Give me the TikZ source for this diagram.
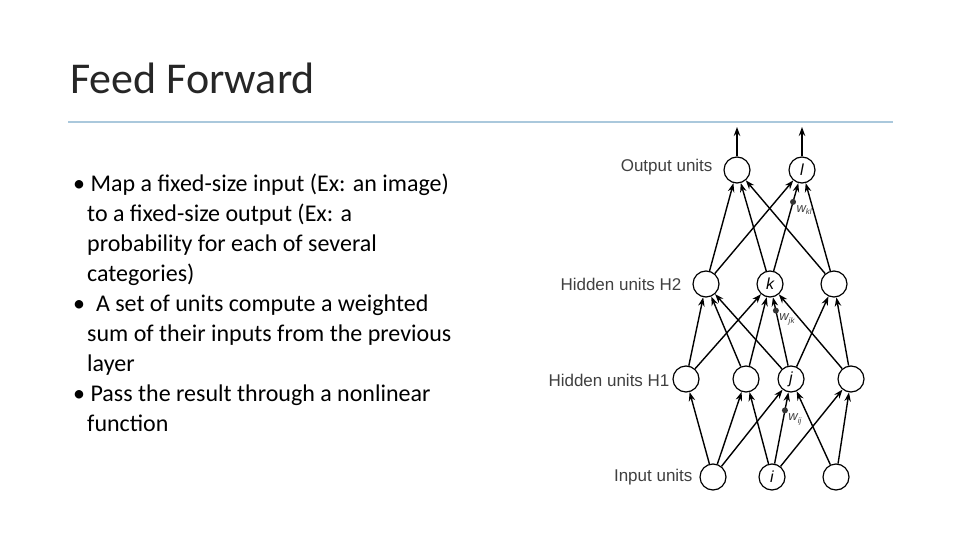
\documentclass[tikz,border=0pt]{standalone}
\usetikzlibrary{arrows.meta,calc}
\usepackage{fontspec}
\setmainfont{Carlito}
\newfontfamily\netfont{Liberation Sans}
\newcommand{\subtxt}[1]{\raisebox{-0.35ex}{\fontsize{8}{8}\selectfont #1}}
\begin{document}
\begin{tikzpicture}[x=1pt,y=-1pt,
  unit/.style={circle,draw,line width=1.2pt,minimum size=26pt,inner sep=0pt,font=\netfont\itshape\fontsize{16}{16}\selectfont},
  edge/.style={-{Stealth[length=9pt,width=6.5pt]},line width=1.4pt},
  lbl/.style={font=\netfont\fontsize{17}{18}\selectfont,text=black!75,anchor=east},
  wl/.style={font=\netfont\itshape\fontsize{13}{13}\selectfont,text=black!75,anchor=north west,inner sep=1pt},
  wdot/.style={circle,fill=black!80,inner sep=0pt,minimum size=6pt}]
\useasboundingbox (0,0) rectangle (960,540);
\node[anchor=base west,font=\fontsize{44}{48}\selectfont,text=black!85,inner sep=0pt] (title) at (70,94) {Feed Forward};
\draw[line width=1.5pt,color={rgb,255:red,170;green,200;blue,220}] (68,122) coordinate (r0) -- (893,122) coordinate (r1);
\node[anchor=north west,align=left,font=\fontsize{24}{30}\selectfont,inner sep=0pt] (txt) at (73,174) {%
• Map a fixed-size input (Ex: an image)\\
\hspace*{14pt}to a fixed-size output (Ex: a\\
\hspace*{14pt}probability for each of several\\
\hspace*{14pt}categories)\\
•\ \ A set of units compute a weighted\\
\hspace*{14pt}sum of their inputs from the previous\\
\hspace*{14pt}layer\\
• Pass the result through a nonlinear\\
\hspace*{14pt}function};
% nodes
\node[unit] (o0) at (737,170) {};
\node[unit] (o1) at (802,170) {l};
\node[unit] (h20) at (706,284) {};
\node[unit] (h21) at (770,284) {k};
\node[unit] (h22) at (834,284) {};
\node[unit] (h10) at (686,379) {};
\node[unit] (h11) at (746,379) {};
\node[unit] (h12) at (791,379) {j};
\node[unit] (h13) at (851,379) {};
\node[unit] (i0) at (713,477) {};
\node[unit] (i1) at (772,477) {i};
\node[unit] (i2) at (836,477) {};
\node[lbl] (lo) at (716,167) {Output units};
\node[lbl] (lh2) at (685,284) {Hidden units H2};
\node[lbl] (lh1) at (673,380) {Hidden units H1};
\node[lbl] (li) at (696,477) {Input units};
\coordinate (t0) at (737,127);
\coordinate (t1) at (802,127);
\draw[edge] (o0) -- (t0);
\draw[edge] (o1) -- (t1);
\foreach \a/\b in {i0/h10,i0/h11,i0/h12,i1/h11,i1/h12,i1/h13,i2/h12,i2/h13,
  h10/h20,h10/h21,h11/h20,h11/h21,h12/h20,h12/h21,h12/h22,h13/h21,h13/h22,
  h20/o0,h20/o1,h21/o0,h21/o1,h22/o0,h22/o1}
  \draw[edge] (\a) -- (\b);
\node[wdot] (d1) at ($(h21)!0.72!(o1)$) {};
\node[wl] at (d1.south east) {w\subtxt{kl}};
\node[wdot] (d2) at ($(h12)!0.72!(h21)$) {};
\node[wl] at (d2.south east) {w\subtxt{jk}};
\node[wdot] (d3) at ($(i1)!0.68!(h12)$) {};
\node[wl] at (d3.south east) {w\subtxt{ij}};
\end{tikzpicture}
\end{document}
